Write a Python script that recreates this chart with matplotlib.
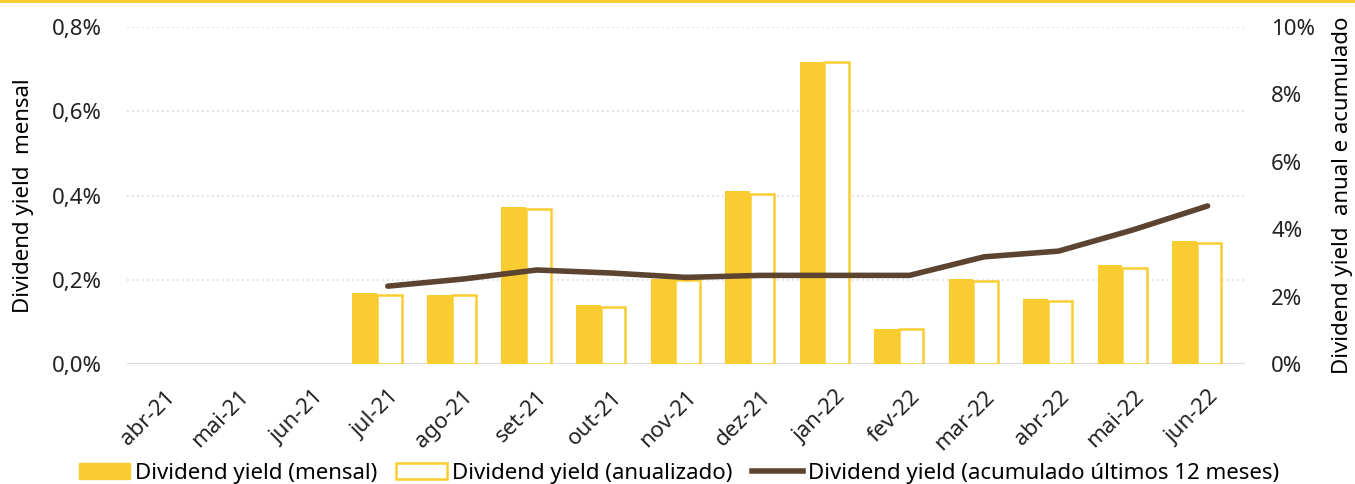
import numpy as np
import matplotlib
matplotlib.use("Agg")
import matplotlib.pyplot as plt
from matplotlib.ticker import FuncFormatter
from matplotlib.lines import Line2D

plt.rcParams['font.family'] = ['Noto Sans', 'DejaVu Sans']

# Data
meses = ['abr-21', 'mai-21', 'jun-21', 'jul-21', 'ago-21', 'set-21', 'out-21',
         'nov-21', 'dez-21', 'jan-22', 'fev-22', 'mar-22', 'abr-22', 'mai-22', 'jun-22']
dy_mensal = [np.nan, np.nan, np.nan, 0.168, 0.164, 0.373, 0.140,
             0.203, 0.411, 0.718, 0.083, 0.202, 0.154, 0.234, 0.291]
dy_anualizado = [np.nan, np.nan, np.nan, 2.04, 2.04, 4.59, 1.69,
                 2.49, 5.05, 8.96, 1.03, 2.45, 1.86, 2.86, 3.58]
dy_acumulado = [np.nan, np.nan, np.nan, 2.31, 2.52, 2.79, 2.70,
                2.57, 2.63, 2.63, 2.63, 3.18, 3.35, 3.98, 4.69]

amarelo = '#F9CD32'
marrom = '#5C4430'
cinza = '#D9D9D9'
fs = 16

fig = plt.figure(figsize=(13.55, 4.84), dpi=100)
ax = fig.add_axes([0.0937, 0.2479, 0.825, 0.6963])
ax2 = ax.twinx()

x = np.arange(len(meses))
w = 0.33
ax.bar(x - 0.31, dy_mensal, width=w, color=amarelo, zorder=2)
ax2.bar(x + 0.02, dy_anualizado, width=w, facecolor='white', edgecolor=amarelo,
        linewidth=1.8, zorder=2)
ax2.plot(x, dy_acumulado, color=marrom, linewidth=4, solid_capstyle='round', zorder=3)

ax.set_xlim(-0.5, len(meses) - 0.5)
ax.set_ylim(0, 0.8)
ax2.set_ylim(0, 10)
ax.set_yticks([0, 0.2, 0.4, 0.6, 0.8])
ax2.set_yticks([0, 2, 4, 6, 8, 10])
ax.yaxis.set_major_formatter(FuncFormatter(lambda v, p: f'{v:.1f}%'.replace('.', ',')))
ax2.yaxis.set_major_formatter(FuncFormatter(lambda v, p: f'{v:.0f}%'))

ax.grid(axis='y', color=cinza, linestyle=(0, (1, 2)), linewidth=1.2, zorder=0)
ax.set_axisbelow(True)
for a in (ax, ax2):
    for s in a.spines.values():
        s.set_visible(False)
    a.tick_params(length=0, labelsize=fs, colors='#222222')
ax2.set_zorder(ax.get_zorder() + 1)
ax2.patch.set_visible(False)
ax.axhline(0, color=cinza, linewidth=2, zorder=1)

ax.set_xticks(x)
ax.set_xticklabels(meses, rotation=45, ha='right', rotation_mode='anchor', fontsize=fs)
ax.tick_params(axis='x', pad=16)
ax.tick_params(axis='y', pad=18)
ax2.tick_params(axis='y', pad=19)

ax.set_ylabel('Dividend yield  mensal', fontsize=fs, labelpad=13)
ax2.set_ylabel('Dividend yield  anual e acumulado', fontsize=fs, labelpad=12)

handles = [
    plt.Rectangle((0, 0), 1, 1, facecolor=amarelo, edgecolor=amarelo),
    plt.Rectangle((0, 0), 1, 1, facecolor='white', edgecolor=amarelo, linewidth=1.8),
    Line2D([0], [0], color=marrom, linewidth=4),
]
labels = ['Dividend yield (mensal)', 'Dividend yield (anualizado)',
          'Dividend yield (acumulado últimos 12 meses)']
fig.legend(handles, labels, loc='center left', bbox_to_anchor=(0.0502, 0.022), ncol=3,
           frameon=False, fontsize=fs, handlelength=2.3, handletextpad=0.22,
           columnspacing=0.85, borderpad=0)

fig.add_artist(Line2D([0, 1], [0.997, 0.997], color=amarelo, linewidth=3,
                      transform=fig.transFigure))

fig.savefig('out.png', dpi=100)
